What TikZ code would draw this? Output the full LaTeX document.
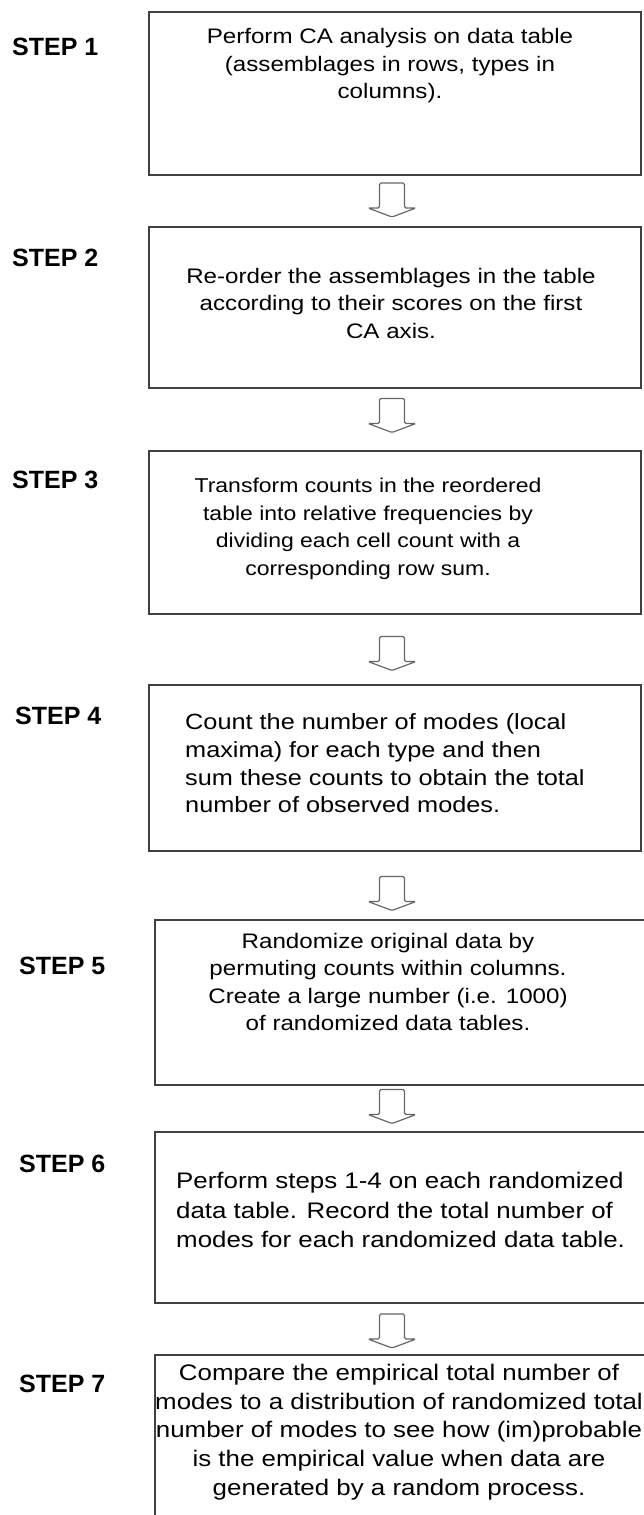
\documentclass[tikz,border=0pt]{standalone}
\usepackage{fontspec}
\setmainfont{Liberation Sans}[FakeStretch=1.15]
\newfontfamily\schrittfont{Liberation Sans}
\usetikzlibrary{calc}

\tikzset{
	kasten/.style={draw=black!75, line width=1.5pt, inner sep=0pt},
	kastentext/.style={align=center, inner sep=0pt, font=\fontsize{21}{27.5}\selectfont},
	schritt/.style={anchor=west, inner sep=0pt, font=\schrittfont\bfseries\fontsize{25}{30}\selectfont},
	pfeil/.style={draw=black!60, line width=1.2pt, rounded corners=1.5pt}
}

\begin{document}
\begin{tikzpicture}[x=1pt, y=-1pt]
	\useasboundingbox (0,0) rectangle (643,1515);
	% Kaesten
	\node[kasten, minimum width=492, minimum height=163] (k1) at (395, 93.5) {};
	\node[kasten, minimum width=492, minimum height=161] (k2) at (395, 307.5) {};
	\node[kasten, minimum width=492, minimum height=163] (k3) at (395, 532.5) {};
	\node[kasten, minimum width=492, minimum height=166] (k4) at (395, 768) {};
	\node[kasten, minimum width=505, minimum height=165] (k5) at (407.5, 1002.5) {};
	\node[kasten, minimum width=505, minimum height=171] (k6) at (407.5, 1217.5) {};
	\node[kasten, minimum width=505, minimum height=175] (k7) at (407.5, 1442.5) {};

	% Texte in den Kaesten
	\node[kastentext] (t1) at (390, 66) {Perform CA analysis on data table\\(assemblages in rows, types in\\columns).};
	\node[kastentext] (t2) at (391, 303) {Re-order the assemblages in the table\\according to their scores on the first\\CA axis.};
	\node[kastentext, font=\fontsize{20}{27.5}\selectfont] (t3) at (368, 529) {Transform counts in the reordered\\table into relative frequencies by\\dividing each cell count with a\\corresponding row sum.};
	\node[kastentext, align=left, anchor=west, font=\fontsize{22}{27.7}\selectfont] (t4) at (185, 763.5) {Count the number of modes (local\\maxima) for each type and then\\sum these counts to obtain the total\\number of observed modes.};
	\node[kastentext] (t5) at (388, 982) {Randomize original data by\\permuting counts within columns.\\Create a large number (i.e. 1000)\\of randomized data tables.};
	\node[kastentext, align=left, anchor=west, font=\fontsize{22.5}{29.5}\selectfont] (t6) at (176, 1210) {Perform steps 1-4 on each randomized\\data table. Record the total number of\\modes for each randomized data table.};
	\node[kastentext, font=\fontsize{22.5}{28.7}\selectfont] (t7) at (399, 1432) {Compare the empirical total number of\\modes to a distribution of randomized total\\number of modes to see how (im)probable\\is the empirical value when data are\\generated by a random process.};

	% Schrittbezeichnungen
	\node[schritt] (s1) at (12, 47) {STEP 1};
	\node[schritt] (s2) at (12, 258) {STEP 2};
	\node[schritt] (s3) at (12, 480) {STEP 3};
	\node[schritt] (s4) at (15, 716) {STEP 4};
	\node[schritt] (s5) at (19, 966) {STEP 5};
	\node[schritt] (s6) at (19, 1164) {STEP 6};
	\node[schritt] (s7) at (19, 1384) {STEP 7};

	% Blockpfeile zwischen den Kaesten
	\coordinate (achse) at (392, 0);
	\foreach \oben/\unten/\dy in {k1/k2/-1, k2/k3/-4, k3/k4/4, k4/k5/8, k5/k6/-2, k6/k7/2} {
		\path ($(\oben.south)!.5!(\unten.north)$) coordinate (m);
		\draw[pfeil] (m -| achse) ++(-12.5,{\dy-17}) -- ++(25,0) -- ++(0,25)
			-- ++(11.5,0) -- ++(-24,9) -- ++(-24,-9) -- ++(11.5,0) -- cycle;
	}
\end{tikzpicture}
\end{document}
